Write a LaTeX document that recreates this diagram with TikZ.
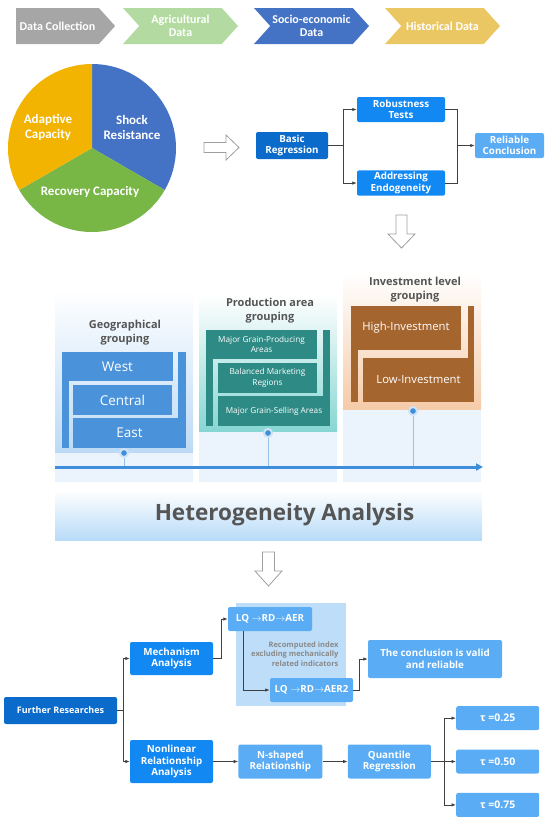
\documentclass[tikz,border=0pt]{standalone}
\usepackage{fontspec}
\setmainfont{Open Sans}
\newfontfamily\calibfont{Carlito}
\usetikzlibrary{positioning,arrows.meta,shapes.symbols}

\definecolor{chevgray}{HTML}{A6A6A6}
\definecolor{chevgreen}{HTML}{B3DBA1}
\definecolor{chevblue}{HTML}{4472C4}
\definecolor{chevyellow}{HTML}{EBC764}
\definecolor{pieyellow}{HTML}{F2B400}
\definecolor{pieblue}{HTML}{4472C4}
\definecolor{piegreen}{HTML}{78B745}
\definecolor{darkblue}{HTML}{0B6BCB}
\definecolor{midblue}{HTML}{1288F2}
\definecolor{lightblue}{HTML}{5AACF5}
\definecolor{linkgray}{HTML}{404040}
\definecolor{titlegray}{HTML}{555555}
\definecolor{geobox}{HTML}{4A93DB}
\definecolor{geoback}{HTML}{BCDAF6}
\definecolor{prodbox}{HTML}{2E8A85}
\definecolor{prodback}{HTML}{86D6D3}
\definecolor{invbox}{HTML}{A5652F}
\definecolor{invback}{HTML}{F5CBA8}
\definecolor{paleblue}{HTML}{EBF4FD}
\definecolor{tlblue}{HTML}{3F8EDB}
\definecolor{panelblue}{HTML}{BDDDF8}
\definecolor{bannerblue}{HTML}{B8DBF8}
\definecolor{notegray}{HTML}{8A8A8A}

\begin{document}
\begin{tikzpicture}[x=1pt,y=-1pt,
  font=\bfseries\fontsize{9.8}{11.5}\selectfont,
  box/.style={rounded corners=2pt,text=white,align=center,inner sep=2pt},
  darkbox/.style={box,fill=darkblue},
  midbox/.style={box,fill=midblue},
  lightbox/.style={box,fill=lightblue},
  chev/.style={signal,signal to=east,text=white,minimum height=36pt,inner sep=0pt,align=center,
    signal pointer angle=96,font=\calibfont\bfseries\fontsize{12}{13.5}\selectfont},
  hollow/.style={draw=gray!75,fill=white,line width=0.8pt,line join=miter},
  pielabel/.style={text=white,align=center,font=\calibfont\bfseries\fontsize{13}{15}\selectfont},
  grouptitle/.style={text=titlegray,align=center,font=\bfseries\fontsize{11}{14}\selectfont},
  geo/.style={fill=geobox,text=white,inner sep=0pt,font=\fontsize{13.5}{15}\selectfont},
  prod/.style={fill=prodbox,text=white,inner sep=0pt,align=center,font=\fontsize{8.2}{10.5}\selectfont},
  inv/.style={fill=invbox,text=white,inner sep=0pt,font=\fontsize{11.3}{13}\selectfont},
  dot/.style={circle,fill=tlblue,draw=tlblue!25,line width=2pt,inner sep=0pt,minimum size=8pt},
  link/.style={draw=linkgray,line width=0.8pt},
  >={Latex[length=4.5pt,width=3.5pt]}]
\useasboundingbox (0,0) rectangle (550,822);

% data collection chevrons
\node[chev,fill=chevgray,minimum width=99pt] (collect) at (57.5,26) {Data Collection};
\node[chev,fill=chevgreen,signal from=west,minimum width=115pt] (agri) at (180.5,26) {Agricultural\\Data};
\node[chev,fill=chevblue,signal from=west,minimum width=115pt] (socio) at (311.5,26) {Socio-economic\\Data};
\node[chev,fill=chevyellow,signal from=west,minimum width=115pt] (hist) at (442.5,26) {Historical Data};

% resilience pie
\begin{scope}[shift={(92,148)},y=1pt]
  \fill[pieblue] (0,0) -- (90:84) arc[start angle=90,end angle=-30,radius=84] -- cycle;
  \fill[piegreen] (0,0) -- (-30:84) arc[start angle=-30,end angle=-150,radius=84] -- cycle;
  \fill[pieyellow] (0,0) -- (210:84) arc[start angle=210,end angle=90,radius=84] -- cycle;
\end{scope}
\node[pielabel] (adapt) at (48,127) {Adaptive\\Capacity};
\node[pielabel] (shock) at (132,127) {Shock\\Resistance};
\node[pielabel] (recov) at (90,192) {Recovery Capacity};

\draw[hollow] (204,142.5) -- (226,142.5) -- (226,135) -- (239,147.5) -- (226,160) -- (226,152.5) -- (204,152.5) -- cycle;

% baseline regression
\node[darkbox,minimum width=72pt,minimum height=27pt] (basic) at (292,145.5) {Basic\\Regression};
\node[midbox,minimum width=88pt,minimum height=25pt] (robust) at (401,109.5) {Robustness\\Tests};
\node[midbox,minimum width=88pt,minimum height=25pt,below=48pt of robust] (endog) {Addressing\\Endogeneity};
\node[lightbox,minimum width=69pt,minimum height=25pt] (reliable) at (509.5,145.5) {Reliable\\Conclusion};
\coordinate (merge) at (457,145.5);
\draw[link,->] (basic.east) -- ++(15pt,0) |- (robust.west);
\draw[link,->] (basic.east) -- ++(15pt,0) |- (endog.west);
\draw[link] (robust.east) -| (merge);
\draw[link] (endog.east) -| (merge);
\draw[link,->] (merge) -- (reliable.west);

\draw[hollow] (396,215) -- (407,215) -- (407,234) -- (415,234) -- (401.5,248) -- (388,234) -- (396,234) -- cycle;

% heterogeneity groups
\shade[top color=white,bottom color=geoback] (55,290) rectangle (193,453);
\fill[paleblue] (55,453) rectangle (193,482);
\shade[top color=white,bottom color=prodback] (199,295) rectangle (337,432);
\fill[paleblue] (199,432) rectangle (337,482);
\shade[top color=white,bottom color=invback] (343,273) rectangle (481,410);
\fill[paleblue] (343,410) rectangle (481,482);

\node[grouptitle] (geotitle) at (125,333) {Geographical\\grouping};
\fill[geobox] (62,352) rectangle (69,448);
\fill[geobox] (178,352) rectangle (186,418);
\node[geo,minimum width=111pt,minimum height=29pt] (west) at (117.5,366.5) {West};
\node[geo,minimum width=99pt,minimum height=30pt] (central) at (122.5,400) {Central};
\node[geo,minimum width=113pt,minimum height=30pt] (east) at (129.5,433) {East};

\node[grouptitle] (prodtitle) at (270,311) {Production area\\grouping};
\fill[prodbox] (206,359) rectangle (213,426);
\fill[prodbox] (323,330) rectangle (330,396);
\node[prod,minimum width=111pt,minimum height=29pt] (prodmajor) at (261.5,344.5) {Major Grain-Producing\\Areas};
\node[prod,minimum width=99pt,minimum height=30pt] (prodbal) at (267.5,378) {Balanced Marketing\\Regions};
\node[prod,minimum width=112pt,minimum height=30pt] (prodsell) at (274,411) {Major Grain-Selling Areas};

\node[grouptitle] (invtitle) at (415,289.5) {Investment level\\grouping};
\fill[invbox] (351,350) rectangle (358,402);
\fill[invbox] (468,306) rectangle (474,358);
\node[inv,minimum width=110pt,minimum height=44pt] (invhigh) at (406,328) {High-Investment};
\node[inv,minimum width=111pt,minimum height=44pt] (invlow) at (418.5,380) {Low-Investment};

% timeline
\coordinate (tlstart) at (55,467);
\coordinate (tlend) at (483,467);
\node[dot] (geodot) at (124,453) {};
\node[dot] (proddot) at (268,433) {};
\node[dot] (invdot) at (413,411) {};
\draw[tlblue!55,line width=0.8pt] (geodot) -- (geodot |- tlstart);
\draw[tlblue!55,line width=0.8pt] (proddot) -- (proddot |- tlstart);
\draw[tlblue!55,line width=0.8pt] (invdot) -- (invdot |- tlstart);
\draw[tlblue,line width=3pt,-{Triangle[length=7pt,width=7pt]}] (tlstart) -- (tlend);

\node[top color=white,bottom color=bannerblue,minimum width=427pt,minimum height=50pt,
  text=titlegray,font=\bfseries\fontsize{22.5}{25}\selectfont] (hetero) at (268.5,515)
  {\hspace*{32pt}Heterogeneity Analysis};

\draw[hollow] (262.5,552) -- (274.5,552) -- (274.5,571) -- (282,571) -- (268.5,586) -- (255,571) -- (262.5,571) -- cycle;

% further researches
\fill[panelblue] (236,603) rectangle (346,706);
\node[darkbox,minimum width=113pt,minimum height=27pt,font=\bfseries\fontsize{9}{10.5}\selectfont] (further) at (60.5,710.5) {Further Researches};
\node[midbox,minimum width=83pt,minimum height=33pt] (mech) at (171.5,658.5) {Mechanism\\Analysis};
\node[midbox,minimum width=83pt,minimum height=43pt] (nonlin) at (171.5,761.5) {Nonlinear\\Relationship\\Analysis};
\node[lightbox,minimum width=84pt,minimum height=24pt] (aer) at (270,619) {LQ $\rightarrow$RD$\rightarrow$AER};
\node[text=notegray,align=right,anchor=east,font=\bfseries\fontsize{7.5}{9.5}\selectfont] (note) at (342,654)
  {Recomputed index\\excluding mechanically\\related indicators};
\node[lightbox,minimum width=83pt,minimum height=24pt] (aer2) at (311.5,690) {LQ $\rightarrow$RD$\rightarrow$AER2};
\node[lightbox,minimum width=134pt,minimum height=38pt] (concl) at (435,659) {The conclusion is valid\\and reliable};
\node[lightbox,minimum width=84pt,minimum height=34pt,right=25pt of nonlin] (nshape) {N-shaped\\Relationship};
\node[lightbox,minimum width=83pt,minimum height=34pt,right=25pt of nshape] (quant) {Quantile\\Regression};
\node[lightbox,minimum width=83pt,minimum height=24pt,right=25pt of quant,font=\bfseries\fontsize{10.5}{12}\selectfont] (t50) {τ =0.50};
\node[lightbox,minimum width=83pt,minimum height=24pt,above=19pt of t50,font=\bfseries\fontsize{10.5}{12}\selectfont] (t25) {τ =0.25};
\node[lightbox,minimum width=83pt,minimum height=24pt,below=19pt of t50,font=\bfseries\fontsize{10.5}{12}\selectfont] (t75) {τ =0.75};

\draw[link,->] (further.east) -- ++(6pt,0) |- (mech.west);
\draw[link,->] (further.east) -- ++(6pt,0) |- (nonlin.west);
\draw[link,->] (mech.east) -- ++(8pt,0) |- (aer.west);
\draw[link,->] ([xshift=16pt]aer.south west) |- (aer2.west);
\draw[link,->] (aer2.east) -- ++(6pt,0) |- (concl.west);
\draw[link,->] (nonlin) -- (nshape);
\draw[link,->] (nshape) -- (quant);
\draw[link,->] (quant.east) -- ++(13pt,0) |- (t25.west);
\draw[link,->] (quant.east) -- (t50.west);
\draw[link,->] (quant.east) -- ++(13pt,0) |- (t75.west);
\end{tikzpicture}
\end{document}
